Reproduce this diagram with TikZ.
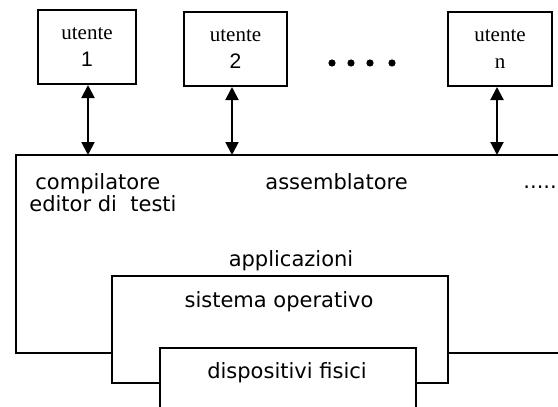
\documentclass[tikz,border=0pt]{standalone}
\usepackage{fontspec}
\setmainfont{Liberation Serif}
\newfontfamily\labelfont{DejaVu Sans}
\newfontfamily\digitfont{Liberation Sans}
\usepackage{tikz}
\usetikzlibrary{arrows.meta,calc,positioning}

\tikzset{
  userbox/.style={draw, line width=1pt, align=center, inner sep=0pt,
    minimum height=37pt, font=\fontsize{10.5}{13.5}\selectfont},
  layertext/.style={anchor=base, inner sep=0pt, font=\labelfont\fontsize{10.5}{12}\selectfont},
  layerline/.style={line width=1pt},
  userlink/.style={line width=1pt, {Triangle[width=6.5pt,length=6.5pt]}-{Triangle[width=6.5pt,length=6.5pt]}}
}

\begin{document}
\begin{tikzpicture}[x=0.5pt, y=-0.5pt]
  \useasboundingbox (0,0) rectangle (558,407);
  % users
  \node[userbox, minimum width=49pt] (user1) at (87,47) {utente\\{\digitfont 1}};
  \node[userbox, minimum width=51.5pt] (user2) at (235.5,49) {utente\\{\digitfont 2}};
  \node[userbox, minimum width=52pt] (usern) at (500,49) {utente\\n};
  \foreach \x in {332,351,370,392}
    \fill (\x,63) circle[radius=1.8pt];
  % layers
  \coordinate (apptop) at (16,155);
  \draw[layerline] (112,353) -- (16,353) -- (apptop) -- (558,155);
  \draw[layerline] (448,353) -- (558,353);
  \draw[layerline] (160,383) -- (112,383) -- (112,276) -- (448,276) -- (448,383) -- (416,383);
  \draw[layerline] (160,407) -- (160,348) -- (416,348) -- (416,407);
  % links user -- applications
  \draw[userlink] (user1.south -| 88,0) -- (88,0 |- apptop);
  \draw[userlink] (user2.south -| 232,0) -- (232,0 |- apptop);
  \draw[userlink] (usern.south -| 497,0) -- (497,0 |- apptop);
  % labels
  \node[layertext, anchor=base west] (compiler) at (35,189) {compilatore};
  \node[layertext, anchor=base west] (editor) at (29,211) {editor di\ \ testi};
  \node[layertext, anchor=base west] (assembler) at (265,189) {assemblatore};
  \node[layertext, anchor=base west] (others) at (523,188) {.....};
  \node[layertext] (apps) at (291,266) {applicazioni};
  \node[layertext] (os) at (279,307) {sistema operativo};
  \node[layertext] (devices) at (287,378) {dispositivi fisici};
\end{tikzpicture}
\end{document}
